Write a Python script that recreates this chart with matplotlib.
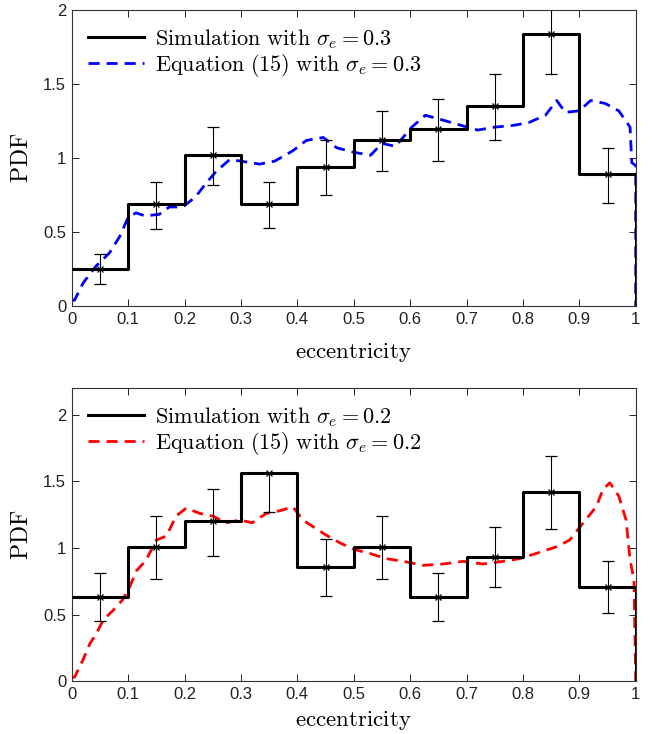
import matplotlib
matplotlib.use('Agg')
import matplotlib.pyplot as plt
import numpy as np

plt.rcParams['font.family'] = ['Liberation Sans', 'DejaVu Sans']
plt.rcParams['mathtext.fontset'] = 'cm'

# bin edges and centres for eccentricity histograms
edges = np.linspace(0, 1, 11)
centres = [0.05, 0.15, 0.25, 0.35, 0.45, 0.55, 0.65, 0.75, 0.85, 0.95]

# top panel: sigma_e = 0.3
sim_03 = [0.25, 0.69, 1.02, 0.69, 0.94, 1.12, 1.20, 1.35, 1.84, 0.89]
lo_03 = [0.15, 0.52, 0.82, 0.53, 0.75, 0.91, 0.98, 1.12, 1.57, 0.70]
hi_03 = [0.35, 0.84, 1.21, 0.84, 1.12, 1.32, 1.40, 1.57, 2.11, 1.07]
eq_x_03 = [0.0, 0.005, 0.02, 0.043, 0.067, 0.085, 0.1, 0.114, 0.13, 0.155, 0.173,
           0.197, 0.22, 0.238, 0.256, 0.28, 0.3, 0.333, 0.36, 0.392, 0.416, 0.446,
           0.47, 0.5, 0.53, 0.55, 0.574, 0.603, 0.627, 0.656, 0.692, 0.72, 0.75,
           0.78, 0.81, 0.84, 0.86, 0.875, 0.9, 0.92, 0.946, 0.97, 0.99, 0.993, 1.0, 1.0]
eq_y_03 = [0.04, 0.04, 0.155, 0.27, 0.36, 0.47, 0.60, 0.63, 0.61, 0.62, 0.67,
           0.67, 0.74, 0.83, 0.91, 0.99, 0.98, 0.96, 0.98, 1.05, 1.12, 1.14,
           1.07, 1.04, 1.02, 1.10, 1.08, 1.21, 1.29, 1.26, 1.22, 1.19, 1.21,
           1.22, 1.24, 1.29, 1.39, 1.31, 1.32, 1.39, 1.37, 1.32, 1.21, 0.97, 0.95, 0.0]

# bottom panel: sigma_e = 0.2
sim_02 = [0.63, 1.01, 1.20, 1.56, 0.86, 1.01, 0.63, 0.93, 1.42, 0.71]
lo_02 = [0.45, 0.77, 0.94, 1.27, 0.64, 0.77, 0.45, 0.71, 1.14, 0.51]
hi_02 = [0.81, 1.24, 1.44, 1.56, 1.07, 1.24, 0.81, 1.16, 1.69, 0.90]
eq_x_02 = [0.0, 0.005, 0.02, 0.032, 0.044, 0.056, 0.073, 0.09, 0.103, 0.115, 0.132,
           0.15, 0.168, 0.185, 0.203, 0.227, 0.25, 0.274, 0.298, 0.32, 0.345, 0.369,
           0.392, 0.41, 0.428, 0.45, 0.475, 0.5, 0.528, 0.558, 0.588, 0.623, 0.658,
           0.694, 0.729, 0.765, 0.794, 0.824, 0.86, 0.883, 0.907, 0.93, 0.942, 0.954,
           0.97, 0.983, 0.99, 0.997, 1.0]
eq_y_02 = [0.03, 0.03, 0.16, 0.28, 0.36, 0.46, 0.53, 0.61, 0.71, 0.83, 0.91,
           1.06, 1.09, 1.24, 1.30, 1.26, 1.24, 1.19, 1.21, 1.19, 1.26, 1.28,
           1.31, 1.21, 1.16, 1.10, 1.04, 0.99, 0.96, 0.92, 0.90, 0.87, 0.88,
           0.90, 0.88, 0.90, 0.92, 0.96, 1.01, 1.06, 1.19, 1.31, 1.44, 1.49,
           1.39, 1.21, 0.91, 0.76, 0.0]

xticks = np.round(np.arange(0, 1.01, 0.1), 1)
xticklabels = ['0', '0.1', '0.2', '0.3', '0.4', '0.5', '0.6', '0.7', '0.8', '0.9', '1']
yticks = [0, 0.5, 1, 1.5, 2]
yticklabels = ['0', '0.5', '1', '1.5', '2']


def panel(ax, sim, lo, hi, eq_x, eq_y, colour, sigma, ymax, xpad):
    xs = np.r_[edges, edges[-1]]
    ys = np.r_[sim, sim[-1], 0]
    ax.plot(eq_x, eq_y, color=colour, lw=2, dashes=(4, 2.5),
            label=r'$\mathrm{Equation\ (15)\ with\ }\sigma_e = %s$' % sigma, zorder=2)
    ax.step(xs, ys, where='post', color='k', lw=2.2,
            label=r'$\mathrm{Simulation\ with\ }\sigma_e = %s$' % sigma, zorder=3)
    sim = np.array(sim)
    yerr = [sim - np.array(lo), np.array(hi) - sim]
    ax.errorbar(centres, sim, yerr=yerr, fmt='x', color='k', ms=5, mew=0.9,
                elinewidth=0.8, capsize=4.5, capthick=0.8, zorder=4)
    ax.set_xlim(0, 1)
    ax.set_ylim(0, ymax)
    ax.set_xticks(xticks)
    ax.set_xticklabels(xticklabels)
    ax.set_yticks(yticks)
    ax.set_yticklabels(yticklabels)
    ax.tick_params(direction='in', top=True, right=True, labelsize=12,
                   length=5, width=0.6, pad=4, labelcolor='#222222')
    for s in ax.spines.values():
        s.set_linewidth(0.8)
        s.set_color('#333333')
    ax.set_xlabel(r'$\mathrm{eccentricity}$', fontsize=16.5, labelpad=xpad)
    ax.set_ylabel(r'$\mathrm{PDF}$', fontsize=17, labelpad=7)
    h, l = ax.get_legend_handles_labels()
    ax.legend(h[::-1], l[::-1], loc='upper left', frameon=False, fontsize=16,
              handlelength=2.5, handletextpad=0.5, labelspacing=0.05,
              borderaxespad=0.35)


fig = plt.figure(figsize=(6.52, 7.34), dpi=100)
ax1 = fig.add_axes([0.110, 0.583, 0.865, 0.403])
ax2 = fig.add_axes([0.110, 0.072, 0.865, 0.399])

panel(ax1, sim_03, lo_03, hi_03, eq_x_03, eq_y_03, 'b', '0.3', 2, 10)
panel(ax2, sim_02, lo_02, hi_02, eq_x_02, eq_y_02, 'r', '0.2', 2.2, 5)

fig.savefig('out.png', dpi=100)
